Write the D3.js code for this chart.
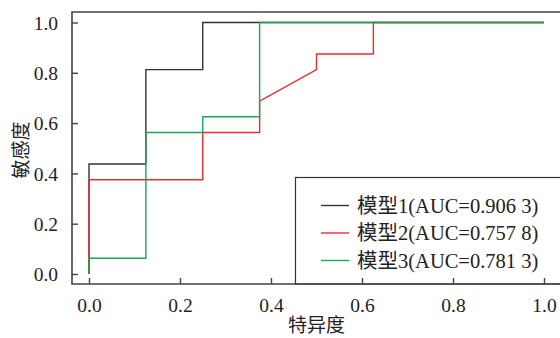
<!DOCTYPE html>
<html>
<head>
<meta charset="utf-8">
<script src="https://cdn.jsdelivr.net/npm/d3@7"></script>
<style>
  body { margin: 0; background: #fff; }
  svg text { font-family: "Liberation Serif", "Noto Sans CJK SC", serif; fill: #222; }
</style>
</head>
<body>
<div id="chart"></div>
<script>
// ROC points (x = 1 - specificity axis labelled 特异度)
var model1_x = [0, 0, 0.125, 0.125, 0.25, 0.25, 1];
var model1_y = [0, 0.4375, 0.4375, 0.8125, 0.8125, 1, 1];
var model2_x = [0, 0, 0.25, 0.25, 0.375, 0.375, 0.5, 0.5, 0.625, 0.625, 1];
var model2_y = [0, 0.375, 0.375, 0.5625, 0.5625, 0.6875, 0.8125, 0.875, 0.875, 1, 1];
var model3_x = [0, 0, 0.125, 0.125, 0.25, 0.25, 0.375, 0.375, 1];
var model3_y = [0, 0.0625, 0.0625, 0.5625, 0.5625, 0.625, 0.625, 1, 1];

var names = ["模型1(AUC=0.906 3)", "模型2(AUC=0.757 8)", "模型3(AUC=0.781 3)"];
var colors = ["#333333", "#ee2a2f", "#16a853"];
var ticks = [0, 0.2, 0.4, 0.6, 0.8, 1.0];

var width = 560, height = 338;
var svg = d3.select("#chart").append("svg").attr("width", width).attr("height", height);

var x = d3.scaleLinear().domain([0, 1]).range([89, 544]);
var y = d3.scaleLinear().domain([0, 1]).range([274, 22.5]);

var frame = {left: 72, top: 12, right: 562, bottom: 284};

// curves
var series = [
    d3.zip(model1_x, model1_y),
    d3.zip(model2_x, model2_y),
    d3.zip(model3_x, model3_y)
];
var line = d3.line().x(d => x(d[0])).y(d => y(d[1]));

// draw black first, then red, then green on top
series.forEach(function(pts, i){
    svg.append("path")
        .attr("d", line(pts))
        .attr("fill", "none")
        .attr("stroke", colors[i])
        .attr("stroke-width", 1.4);
});

// legend box
var legend = svg.append("g");
legend.append("rect")
    .attr("x", 295.5).attr("y", 177.5)
    .attr("width", 270).attr("height", frame.bottom - 177.5)
    .attr("fill", "#fff")
    .attr("stroke", "#333").attr("stroke-width", 1.2);
names.forEach(function(n, i){
    var ly = 205.5 + i * 27.5;
    legend.append("line")
        .attr("x1", 321).attr("x2", 349).attr("y1", ly).attr("y2", ly)
        .attr("stroke", colors[i]).attr("stroke-width", 1.4);
    legend.append("text")
        .attr("x", 357).attr("y", ly + 7)
        .attr("font-size", "20.5px")
        .text(n);
});

// frame
svg.append("path")
    .attr("d", "M" + frame.right + "," + frame.top + "H" + frame.left + "V" + frame.bottom + "H" + frame.right)
    .attr("fill", "none")
    .attr("stroke", "#444").attr("stroke-width", 1.6);

// axes with inward ticks
var xAxis = d3.axisBottom(x).tickValues(ticks).tickSize(-6).tickPadding(14)
    .tickFormat(d3.format(".1f"));
var gx = svg.append("g").attr("transform", "translate(0," + frame.bottom + ")").call(xAxis);
var yAxis = d3.axisLeft(y).tickValues(ticks).tickSize(-6).tickPadding(14)
    .tickFormat(d3.format(".1f"));
var gy = svg.append("g").attr("transform", "translate(" + frame.left + ",0)").call(yAxis);

[gx, gy].forEach(function(g){
    g.select(".domain").remove();
    g.selectAll(".tick line").attr("stroke", "#444").attr("stroke-width", 1.4);
    g.selectAll(".tick text").attr("font-size", "19.5px").attr("fill", "#222")
        .attr("font-family", "Liberation Serif, serif");
});
gy.selectAll(".tick text").attr("dy", "0.35em");

// axis titles
svg.append("text")
    .attr("x", x(0.5)).attr("y", 332)
    .attr("text-anchor", "middle")
    .attr("font-size", "19px")
    .text("特异度");
svg.append("text")
    .attr("transform", "translate(28,150) rotate(-90)")
    .attr("text-anchor", "middle")
    .attr("font-size", "19px")
    .text("敏感度");
</script>
</body>
</html>
